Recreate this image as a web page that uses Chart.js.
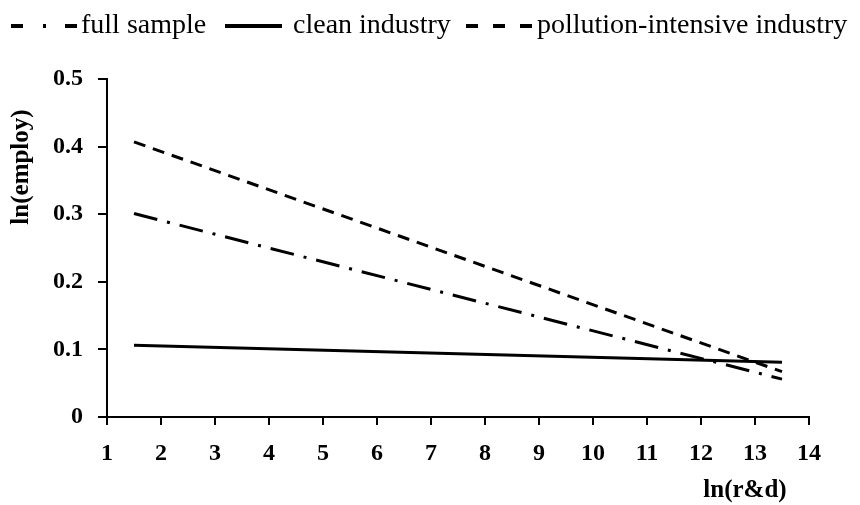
<!DOCTYPE html>
<html>
<head>
<meta charset="utf-8">
<script src="https://cdn.jsdelivr.net/npm/chart.js@4/dist/chart.umd.min.js"></script>
<style>
  html, body { margin: 0; padding: 0; background: #fff; }
  #wrap { width: 860px; height: 505px; position: relative; }
</style>
</head>
<body>
<div id="wrap"><canvas id="chart"></canvas></div>
<script>
// x endpoints of the fitted lines, ln(r&d)
const xValues = [1.5, 13.5];
// ln(employ) values at those endpoints
const fullSample = [0.301, 0.056];
const cleanIndustry = [0.106, 0.081];
const pollutionIndustry = [0.407, 0.067];
const seriesNames = ['full sample', 'clean industry', 'pollution-intensive industry'];
const xTicks = [1, 2, 3, 4, 5, 6, 7, 8, 9, 10, 11, 12, 13, 14];
const yTicks = [0, 0.1, 0.2, 0.3, 0.4, 0.5];

const SERIF = '"Liberation Serif", "DejaVu Serif", serif';

function pts(vals) {
  return xValues.map((x, i) => ({ x: x, y: vals[i] }));
}

// legend + axis titles drawn by hand, the chart layout is fixed to the picture
const decor = {
  id: 'decor',
  afterDraw(chart) {
    const ctx = chart.ctx;
    ctx.save();
    ctx.strokeStyle = '#000';
    ctx.fillStyle = '#000';
    ctx.lineWidth = 4;
    const ly = 26;
    const items = [
      { x0: 11, x1: 77, dash: [12, 20, 3, 19], tx: 81 },
      { x0: 225, x1: 282, dash: [], tx: 293 },
      { x0: 466, x1: 532, dash: [12, 15], tx: 537 }
    ];
    ctx.font = '28px ' + SERIF;
    ctx.textBaseline = 'middle';
    items.forEach((it, i) => {
      ctx.setLineDash(it.dash);
      ctx.beginPath();
      ctx.moveTo(it.x0, ly);
      ctx.lineTo(it.x1, ly);
      ctx.stroke();
      ctx.fillText(seriesNames[i], it.tx, ly);
    });
    ctx.setLineDash([]);

    ctx.font = 'bold 25px ' + SERIF;
    ctx.textAlign = 'center';
    ctx.fillText('ln(r&d)', 745, 491);
    ctx.translate(22, 167);
    ctx.rotate(-Math.PI / 2);
    ctx.fillText('ln(employ)', 0, 0);
    ctx.restore();
  }
};

const lineStyle = (vals, dash) => ({
  data: pts(vals),
  borderColor: '#000',
  borderWidth: 3,
  borderDash: dash,
  pointRadius: 0,
  fill: false,
  tension: 0
});

new Chart(document.getElementById('chart'), {
  type: 'line',
  data: {
    datasets: [
      Object.assign({ label: seriesNames[0] }, lineStyle(fullSample, [24, 10, 3, 10])),
      Object.assign({ label: seriesNames[1] }, lineStyle(cleanIndustry, [])),
      Object.assign({ label: seriesNames[2] }, lineStyle(pollutionIndustry, [12, 8]))
    ]
  },
  options: {
    responsive: true,
    maintainAspectRatio: false,
    animation: false,
    layout: { padding: { top: 79, right: 51, left: 0, bottom: 0 } },
    plugins: { legend: { display: false }, tooltip: { enabled: false } },
    scales: {
      x: {
        type: 'linear',
        min: 1,
        max: 14,
        afterBuildTicks(scale) { scale.ticks = xTicks.map(v => ({ value: v })); },
        afterFit(scale) { scale.height = 88; },
        border: { display: true, color: '#000', width: 2 },
        grid: { drawOnChartArea: false, drawTicks: true, tickLength: 8, color: '#000', lineWidth: 2 },
        ticks: { color: '#000', padding: 14, maxRotation: 0, font: { family: SERIF, size: 24, weight: 'bold' } }
      },
      y: {
        min: 0,
        max: 0.5,
        afterBuildTicks(scale) { scale.ticks = yTicks.map(v => ({ value: v })); },
        afterFit(scale) { scale.width = 107; },
        border: { display: true, color: '#000', width: 2 },
        grid: { drawOnChartArea: false, drawTicks: true, tickLength: 9, color: '#000', lineWidth: 2 },
        ticks: {
          color: '#000',
          padding: 15,
          font: { family: SERIF, size: 24, weight: 'bold' },
          callback: v => (v === 0 ? '0' : v.toFixed(1))
        }
      }
    }
  },
  plugins: [decor]
});
</script>
</body>
</html>
